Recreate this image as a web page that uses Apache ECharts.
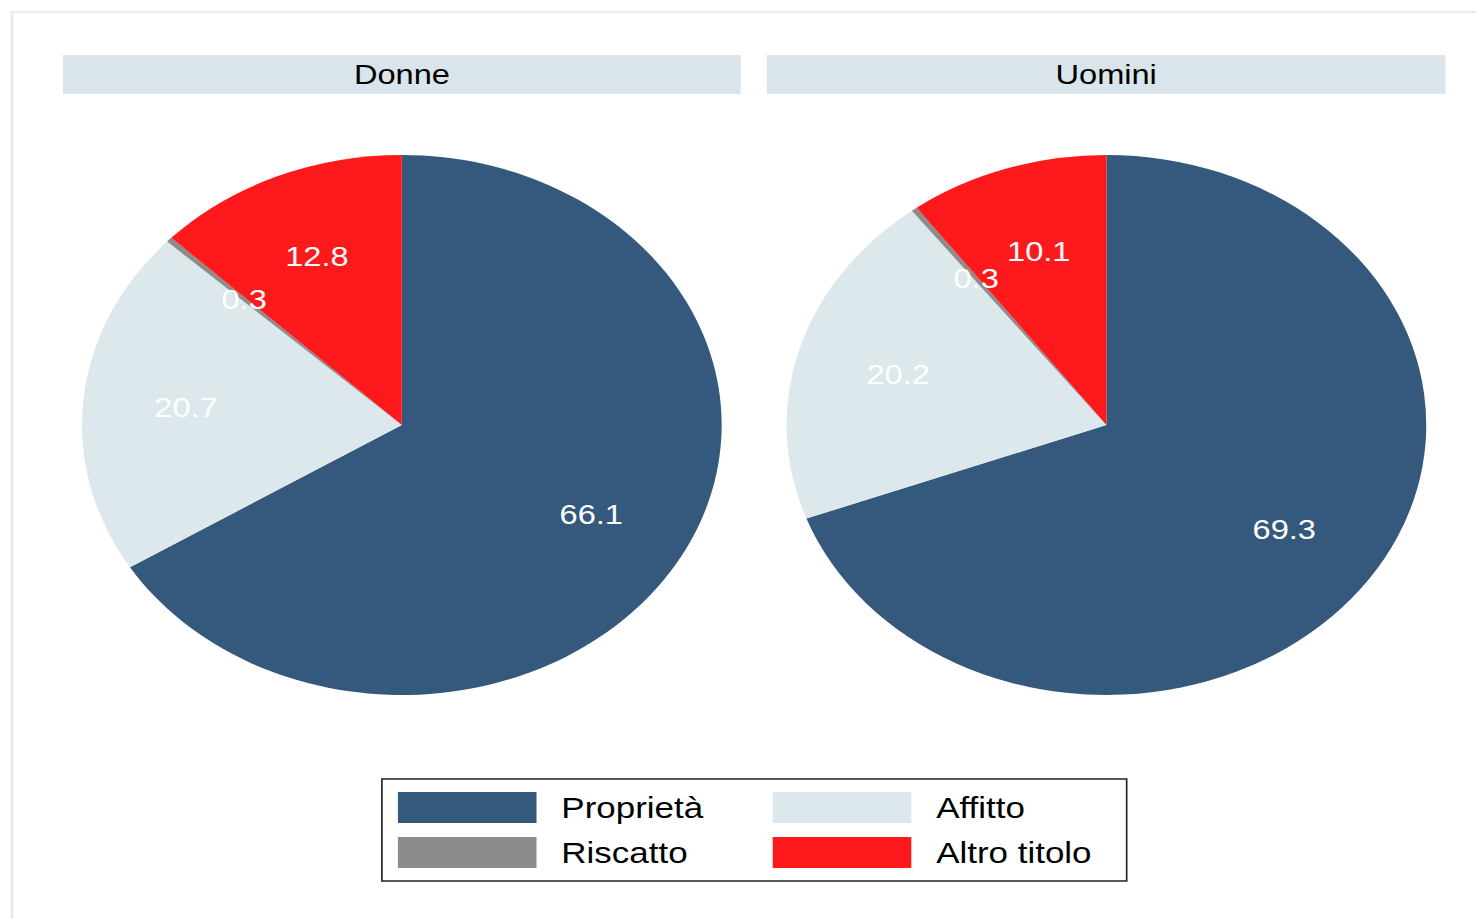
<!DOCTYPE html>
<html>
<head>
<meta charset="utf-8">
<script src="https://cdn.jsdelivr.net/npm/echarts@6/dist/echarts.min.js"></script>
<style>
html,body{margin:0;padding:0;background:#fff;overflow:hidden;width:1476px;height:919px;}
#wrap{position:absolute;left:0;top:0;width:1476px;height:919px;overflow:hidden;}
#chart{position:absolute;left:0;top:0;width:1246px;height:919px;transform:scaleX(1.1846);transform-origin:0 0;}
</style>
</head>
<body>
<div id="wrap"><div id="chart"></div></div>
<script>
const categories = ['Proprietà', 'Affitto', 'Riscatto', 'Altro titolo'];
const panels = ['Donne', 'Uomini'];
const donneValues = [66.1, 20.7, 0.3, 12.8];
const uominiValues = [69.3, 20.2, 0.3, 10.1];
const colors = ['#34597c', '#dce8ec', '#8c8c8c', '#fe1a1c'];
const legendLeft = ['Proprietà', 'Riscatto'];
const legendRight = ['Affitto', 'Altro titolo'];

const FONT = '"Liberation Sans", Arial, Helvetica, sans-serif';
const centersX = [339.2, 934.0];
const CY = 425, R = 270;
const seriesValues = [donneValues, uominiValues];

const series = [];
panels.forEach((p, i) => {
  const vals = seriesValues[i];
  series.push({
    type: 'pie', name: p, center: [centersX[i], CY], radius: [0, R],
    startAngle: 90, clockwise: true, silent: true, animation: false,
    itemStyle: { borderWidth: 0 },
    label: { show: false }, labelLine: { show: false },
    data: categories.map((c, k) => ({ name: c, value: vals[k], itemStyle: { color: colors[k] } }))
  });
  series.push({
    type: 'pie', name: p + '_labels', center: [centersX[i], CY], radius: [90, R],
    startAngle: 90, clockwise: true, silent: true, animation: false,
    itemStyle: { color: 'rgba(0,0,0,0)', borderWidth: 0 },
    label: { show: true, position: 'inside', color: '#ffffff', fontSize: 27.5, fontWeight: 500, fontFamily: FONT, formatter: '{c}' },
    labelLine: { show: false },
    data: categories.map((c, k) => ({ name: c, value: vals[k] }))
  });
});

function legendData(names) {
  return names.map(n => ({ name: n, icon: 'rect', itemStyle: { color: colors[categories.indexOf(n)], borderWidth: 0 } }));
}
const legendCommon = {
  orient: 'vertical', top: 792, padding: 0, itemWidth: 117, itemHeight: 31, itemGap: 14,
  selectedMode: false,
  textStyle: { fontSize: 29.5, fontFamily: FONT, color: '#000', padding: [3, 0, 0, 16] }
};

const graphics = [
  { type: 'rect', shape: { x: 10, y: 12, width: 1400, height: 1000 }, style: { fill: 'none', stroke: '#e6eff0', lineWidth: 2.5 }, silent: true },
  { type: 'rect', shape: { x: 322.4, y: 779, width: 628.7, height: 102 }, style: { fill: 'none', stroke: '#222', lineWidth: 1.4 }, silent: true }
];
const strips = [[53.2, 572.1], [647.3, 573.0]];
panels.forEach((p, i) => {
  graphics.push({ type: 'rect', shape: { x: strips[i][0], y: 55, width: strips[i][1], height: 39 }, style: { fill: '#d9e5ea' }, silent: true });
  graphics.push({ type: 'text', x: strips[i][0] + strips[i][1] / 2, y: 74.5, style: { text: p, fontSize: 27.5, fontFamily: FONT, fill: '#000', align: 'center', verticalAlign: 'middle' }, silent: true });
});

const chart = echarts.init(document.getElementById('chart'), null, { renderer: 'svg', width: 1246, height: 919 });
chart.setOption({
  animation: false,
  backgroundColor: '#fff',
  legend: [
    Object.assign({}, legendCommon, { left: 335.9, data: legendData(legendLeft) }),
    Object.assign({}, legendCommon, { left: 652.3, data: legendData(legendRight) })
  ],
  graphic: graphics,
  series: series
});
</script>
</body>
</html>
